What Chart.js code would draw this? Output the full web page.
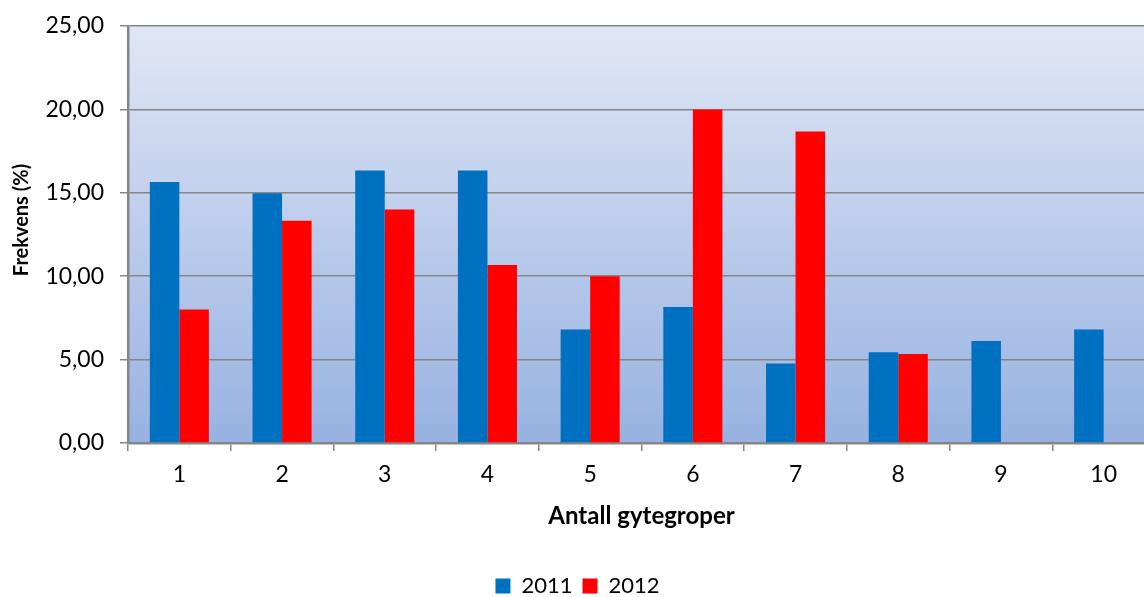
<!DOCTYPE html>
<html><head><meta charset="utf-8">
<script src="https://cdn.jsdelivr.net/npm/chart.js@4"></script>
<style>html,body{margin:0;padding:0;overflow:hidden;background:#fff;width:1144px;height:597px}
#wrap{width:1160px;height:597px;position:relative}</style>
</head><body><div id="wrap"><canvas id="c" width="1160" height="597"></canvas></div>
<script>
const categories = ['1','2','3','4','5','6','7','8','9','10'];
const series2011 = [15.65, 14.97, 16.33, 16.33, 6.80, 8.16, 4.76, 5.44, 6.12, 6.80];
const series2012 = [8.00, 13.33, 14.00, 10.67, 10.00, 20.00, 18.67, 5.33, null, null];
const seriesNames = ['2011', '2012'];
const yTicks = [0, 5, 10, 15, 20, 25];
const yTitle = 'Frekvens (%)';
const xTitle = 'Antall gytegroper';

const FONT = 'Lato, "Open Sans", sans-serif';
const GRID = '#868686';

const bgPlugin = {
  id: 'bg',
  beforeDraw(chart) {
    const {ctx, chartArea: a} = chart;
    const g = ctx.createLinearGradient(0, a.top, 0, a.bottom);
    g.addColorStop(0, '#e0e6f5');
    g.addColorStop(1, '#97b2e1');
    ctx.save();
    ctx.fillStyle = g;
    ctx.fillRect(a.left, a.top, a.right - a.left, a.bottom - a.top);
    ctx.restore();
  },
  afterDraw(chart) {
    const {ctx} = chart;
    ctx.save();
    ctx.translate(22, 220);
    ctx.rotate(-Math.PI / 2);
    ctx.font = 'bold 20px ' + FONT;
    ctx.fillStyle = '#000';
    ctx.textAlign = 'center';
    ctx.textBaseline = 'middle';
    ctx.fillText(yTitle, 0, 0);
    ctx.restore();
  }
};

new Chart(document.getElementById('c'), {
  type: 'bar',
  data: {
    labels: categories,
    datasets: [
      {label: seriesNames[0], data: series2011, backgroundColor: '#0070c0'},
      {label: seriesNames[1], data: series2012, backgroundColor: '#ff0000'}
    ]
  },
  options: {
    responsive: false,
    animation: false,
    devicePixelRatio: 1,
    layout: {padding: {top: 26, right: 5, left: 0, bottom: -10}},
    datasets: {bar: {categoryPercentage: 0.575, barPercentage: 1.0}},
    plugins: {
      tooltip: {enabled: false},
      legend: {
        position: 'bottom',
        labels: {font: {family: FONT, size: 22}, color: '#000', boxWidth: 15, boxHeight: 15, padding: 10}
      }
    },
    scales: {
      y: {
        min: 0, max: 25,
        afterBuildTicks(s) { s.ticks = yTicks.map(v => ({value: v})); },
        afterFit(s) { s.width = 128; s.paddingTop = 0; s.paddingBottom = 0; },
        ticks: {
          font: {family: FONT, size: 23}, color: '#000', padding: 16,
          callback: v => v.toFixed(2).replace('.', ',')
        },
        grid: {color: GRID, lineWidth: 1.5, tickLength: 8, drawTicks: true},
        border: {color: GRID, width: 2.5}
      },
      x: {
        afterFit(s) { s.height = 122; },
        ticks: {font: {family: FONT, size: 23}, color: '#000', padding: 10},
        grid: {color: GRID, lineWidth: 1.5, tickLength: 8, drawOnChartArea: false, offset: true},
        border: {color: GRID, width: 2.5},
        title: {display: true, text: xTitle, font: {family: FONT, size: 24, weight: 'bold'}, color: '#000', padding: {top: 0, bottom: 34}}
      }
    }
  },
  plugins: [bgPlugin]
});
</script></body></html>
